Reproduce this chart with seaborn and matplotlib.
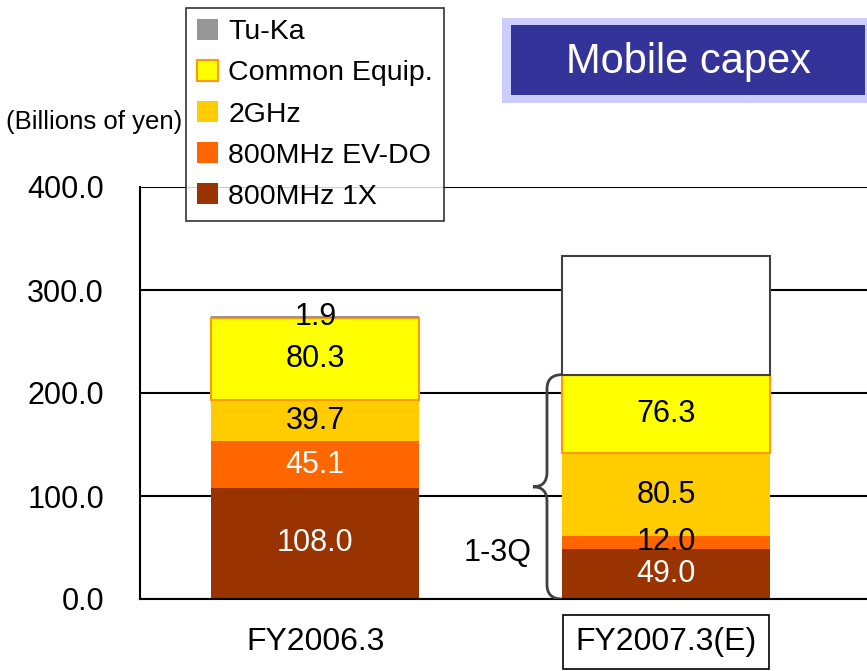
import numpy as np
import matplotlib
matplotlib.use("Agg")
import matplotlib.pyplot as plt
from matplotlib.patches import Patch, Rectangle, PathPatch
from matplotlib.path import Path
from matplotlib.ticker import FormatStrFormatter
import seaborn as sns

categories = ["FY2006.3", "FY2007.3(E)"]
series = ["800MHz 1X", "800MHz EV-DO", "2GHz", "Common Equip.", "Tu-Ka"]
mhz800_1x = [108.0, 49.0]
mhz800_evdo = [45.1, 12.0]
ghz2 = [39.7, 80.5]
common_equip = [80.3, 76.3]
tuka = [1.9, 0.0]
fy2007_full_year = 333.0  # top of the outline box (full-year estimate)
y_ticks = [0, 100, 200, 300, 400]

colors = {
    "800MHz 1X": "#993300",
    "800MHz EV-DO": "#FF6600",
    "2GHz": "#FFCC00",
    "Common Equip.": "#FFFF00",
    "Tu-Ka": "#969696",
}
edges = {"Common Equip.": "#FF9900"}
dark = {"800MHz 1X", "800MHz EV-DO"}

sns.set_style("white")
plt.rcParams["font.family"] = ["Liberation Sans", "DejaVu Sans"]
plt.rcParams["text.color"] = "black"
plt.rcParams["xtick.color"] = "black"
plt.rcParams["ytick.color"] = "black"

W, H = 867, 671
fig = plt.figure(figsize=(W / 100, H / 100), dpi=100)
ax = fig.add_axes([140 / W, 1 - 599 / H, 1 - 140 / W, (599 - 187) / H])

bar_width = 0.593
values = [mhz800_1x, mhz800_evdo, ghz2, common_equip, tuka]
bottom = np.zeros(len(categories))
for name, vals in zip(series, values):
    vals = np.asarray(vals, dtype=float)
    sns.barplot(
        x=categories, y=vals, order=categories, bottom=bottom.copy(),
        color=colors[name], saturation=1, width=bar_width, errorbar=None,
        edgecolor=edges.get(name, colors[name]),
        linewidth=1.5 if name in edges else 0, ax=ax,
    )
    for i, v in enumerate(vals):
        if v <= 0:
            continue
        txt_color = "white" if (name in dark and v > 20) else "black"
        ax.text(i, bottom[i] + v / 2, f"{v:.1f}", ha="center", va="center",
                fontsize=22, color=txt_color, zorder=5)
    bottom += vals

# outline box for the remaining (4Q) part of the full-year estimate
sns.barplot(
    x=[categories[1]], y=[fy2007_full_year - bottom[1]], order=categories,
    bottom=bottom[1], color="white", saturation=1, width=bar_width,
    errorbar=None, edgecolor="#404040", linewidth=1.5, ax=ax,
)

# curly brace marking 1-3Q
xe = 1 - bar_width / 2
xv, xt = xe - 0.043, xe - 0.083
y0, y1 = 0.0, bottom[1]
ym, r = (y0 + y1) / 2, 14
verts = [(xe, y0), (xv, y0), (xv, y0 + r), (xv, ym - r), (xv, ym), (xt, ym),
         (xv, ym), (xv, ym + r), (xv, y1 - r), (xv, y1), (xe, y1)]
codes = [Path.MOVETO, Path.CURVE3, Path.CURVE3, Path.LINETO, Path.CURVE3, Path.CURVE3,
         Path.CURVE3, Path.CURVE3, Path.LINETO, Path.CURVE3, Path.CURVE3]
ax.add_patch(PathPatch(Path(verts, codes), fill=False, edgecolor="#404040", lw=2, zorder=4))
ax.text(0.519, 45, "1-3Q", ha="center", va="center", fontsize=22)

ax.set_xlim(-0.5, 1.573)
ax.set_ylim(0, 400)
ax.set_yticks(y_ticks)
ax.yaxis.set_major_formatter(FormatStrFormatter("%.1f"))
ax.grid(axis="y", color="black", lw=1.5)
ax.grid(axis="x", visible=False)
ax.set_axisbelow(True)
ax.set_xlabel("")
ax.set_ylabel("")
for s in ["top", "right"]:
    ax.spines[s].set_visible(False)
for s in ["left", "bottom"]:
    ax.spines[s].set_color("black")
    ax.spines[s].set_linewidth(1.5)
ax.tick_params(axis="y", length=0, pad=26, labelsize=22)
ax.tick_params(axis="x", which="major", length=0, pad=20, labelsize=23)
ax.set_xticks([0.5], minor=True)
ax.tick_params(axis="x", which="minor", direction="in", length=7, width=1, color="black")
ax.get_xticklabels()[1].set_bbox(dict(boxstyle="square,pad=0.38", fc="white", ec="black", lw=1.2))

fig.text(6 / W, 1 - 122 / H, "(Billions of yen)", ha="left", va="center", fontsize=18.5)

handles = [Patch(facecolor=colors[n], edgecolor=edges.get(n, colors[n]),
                 linewidth=1.5 if n in edges else 0) for n in series[::-1]]
leg = fig.legend(handles, series[::-1], loc="upper left",
                 bbox_to_anchor=(186 / W, 1 - 8 / H), borderaxespad=0,
                 fontsize=20.5, frameon=True, fancybox=False, shadow=False,
                 handlelength=0.75, handleheight=0.75, handletextpad=0.35,
                 labelspacing=0.52, borderpad=0.38)
leg.get_frame().set_edgecolor("black")
leg.get_frame().set_linewidth(1.2)

# title box
fig.add_artist(Rectangle((502 / W, 1 - 103 / H), 365 / W, 85 / H,
                         transform=fig.transFigure, fc="#CCCCFF", ec="none"))
fig.add_artist(Rectangle((511 / W, 1 - 95 / H), 354 / W, 70 / H,
                         transform=fig.transFigure, fc="#333399", ec="none"))
fig.text(688 / W, 1 - 62 / H, "Mobile capex", ha="center", va="center",
         fontsize=30, color="white")

fig.savefig("out.png", dpi=100)
